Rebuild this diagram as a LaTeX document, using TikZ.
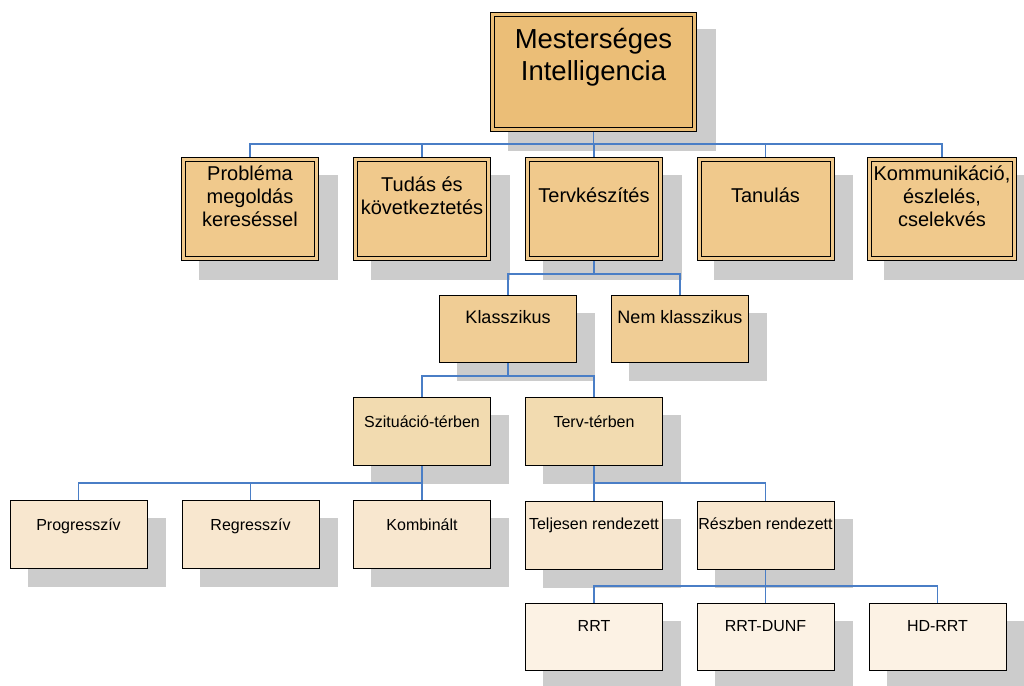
\documentclass[tikz,border=0pt]{standalone}
\usepackage{fontspec}
\setmainfont{Liberation Sans}
\pgfdeclarelayer{shadowlayer}
\pgfdeclarelayer{connlayer}
\pgfsetlayers{shadowlayer,connlayer,main}
\definecolor{cRoot}{HTML}{EBBE77}
\definecolor{cOne}{HTML}{F0C98C}
\definecolor{cTwo}{HTML}{F0CD95}
\definecolor{cThree}{HTML}{F2DBB0}
\definecolor{cFour}{HTML}{F8E7CF}
\definecolor{cFive}{HTML}{FCF2E4}
\definecolor{cShadow}{HTML}{CCCCCC}
\definecolor{cLink}{HTML}{4A7EC6}
\newcommand\tstr{\rule{0pt}{1em}}
\begin{document}
\begin{tikzpicture}[x=1pt,y=-1pt,
  dblbox/.style={rectangle, inner sep=0pt, draw=black, line width=1pt, double distance=3pt},
  sglbox/.style={rectangle, inner sep=0pt, draw=black, line width=1pt, minimum width=137pt},
  rootbox/.style={dblbox, fill=cRoot, double=cRoot, minimum width=202pt, minimum height=115pt},
  onebox/.style={dblbox, fill=cOne, double=cOne, minimum width=133pt, minimum height=99pt},
  twobox/.style={sglbox, fill=cTwo, minimum height=67pt},
  threebox/.style={sglbox, fill=cThree, minimum height=68pt},
  fourbox/.style={sglbox, fill=cFour, minimum height=68pt},
  fivebox/.style={sglbox, fill=cFive, minimum height=67pt},
  txt/.style={inner sep=0pt, anchor=north, align=center, text=black},
  txtroot/.style={txt, font=\fontsize{27.5}{32}\selectfont},
  txtone/.style={txt, font=\fontsize{20}{23}\selectfont},
  txttwo/.style={txt, font=\fontsize{18}{21}\selectfont},
  txtlow/.style={txt, font=\fontsize{16}{19}\selectfont},
  link/.style={draw=cLink, line width=1.3pt}
]
\useasboundingbox (0,0) rectangle (1024,685);

% boxes
\node[rootbox] (r) at (593.5,72) {};
\node[onebox] (p) at (250,209) {};
\node[onebox] (t) at (422,209) {};
\node[onebox] (tk) at (594,209) {};
\node[onebox] (ta) at (765.5,209) {};
\node[onebox, minimum width=145.5pt] (km) at (942,209) {};
\node[twobox] (kl) at (508,329) {};
\node[twobox] (nk) at (680,329) {};
\node[threebox] (sz) at (422,431.5) {};
\node[threebox] (tv) at (594,431.5) {};
\node[fourbox] (pr) at (78.5,534.5) {};
\node[fourbox] (rg) at (250.5,534.5) {};
\node[fourbox] (kb) at (422,534.5) {};
\node[fourbox] (tj) at (594,535) {};
\node[fourbox] (rb) at (765.5,535) {};
\node[fivebox] (ra) at (594,637) {};
\node[fivebox] (rd) at (765.5,637) {};
\node[fivebox] (hd) at (937.5,637) {};

% texts
\node[txtroot] (rt) at ([yshift=-6.3pt]r.north) {\tstr Mesterséges\\Intelligencia};
\node[txtone] (pt) at ([yshift=-1.5pt]p.north) {\tstr Probléma\\megoldás\\kereséssel};
\node[txtone] (tt) at ([yshift=-12.5pt]t.north) {\tstr Tudás és\\következtetés};
\node[txtone] (tkt) at ([yshift=-23.5pt]tk.north) {\tstr Tervkészítés};
\node[txtone] (tat) at ([yshift=-23.5pt]ta.north) {\tstr Tanulás};
\node[txtone] (kmt) at ([yshift=-1.5pt]km.north) {\tstr Kommunikáció,\\észlelés,\\cselekvés};
\node[txttwo] (klt) at ([yshift=-10.5pt]kl.north) {\tstr Klasszikus};
\node[txttwo] (nkt) at ([yshift=-10.5pt]nk.north) {\tstr Nem klasszikus};
\node[txtlow] (szt) at ([yshift=-14.5pt]sz.north) {\tstr Szituáció-térben};
\node[txtlow] (tvt) at ([yshift=-14.5pt]tv.north) {\tstr Terv-térben};
\node[txtlow] (prt) at ([yshift=-14pt]pr.north) {\tstr Progresszív};
\node[txtlow] (rgt) at ([yshift=-14pt]rg.north) {\tstr Regresszív};
\node[txtlow] (kbt) at ([yshift=-14pt]kb.north) {\tstr Kombinált};
\node[txtlow] (tjt) at ([yshift=-13pt]tj.north) {\tstr Teljesen rendezett};
\node[txtlow] (rbt) at ([yshift=-13pt]rb.north) {\tstr Részben rendezett};
\node[txtlow] (rat) at ([yshift=-12.5pt]ra.north) {\tstr RRT};
\node[txtlow] (rdt) at ([yshift=-12.5pt]rd.north) {\tstr RRT-DUNF};
\node[txtlow] (hdt) at ([yshift=-12.5pt]hd.north) {\tstr HD-RRT};

% background and shadows
\begin{pgfonlayer}{shadowlayer}
\fill[white] (0,0) rectangle (1024,685);
\foreach \n in {r,p,t,tk,ta,km}
  \fill[cShadow] ([shift={(15.5pt,-15.5pt)}]\n.north west) rectangle ([shift={(20.5pt,-20.5pt)}]\n.south east);
\foreach \n in {kl,nk,sz,tv,pr,rg,kb,tj,rb,ra,rd,hd}
  \fill[cShadow] ([shift={(18pt,-18pt)}]\n.north west) rectangle ([shift={(18pt,-18pt)}]\n.south east);
\end{pgfonlayer}

% connectors
\coordinate (b1) at (0,144);
\coordinate (b2) at (0,274);
\coordinate (b3) at (0,376);
\coordinate (b4) at (0,483);
\coordinate (b5) at (0,586);
\begin{pgfonlayer}{connlayer}
\foreach \c in {p,t,tk,ta,km} \draw[link] (r.south) -- (r.south |- b1) -| (\c.north);
\foreach \c in {kl,nk} \draw[link] (tk.south) -- (tk.south |- b2) -| (\c.north);
\foreach \c in {sz,tv} \draw[link] (kl.south) -- (kl.south |- b3) -| (\c.north);
\foreach \c in {pr,rg,kb} \draw[link] (sz.south) -- (sz.south |- b4) -| (\c.north);
\foreach \c in {tj,rb} \draw[link] (tv.south) -- (tv.south |- b4) -| (\c.north);
\foreach \c in {ra,rd,hd} \draw[link] (rb.south) -- (rb.south |- b5) -| (\c.north);
\end{pgfonlayer}
\end{tikzpicture}
\end{document}
